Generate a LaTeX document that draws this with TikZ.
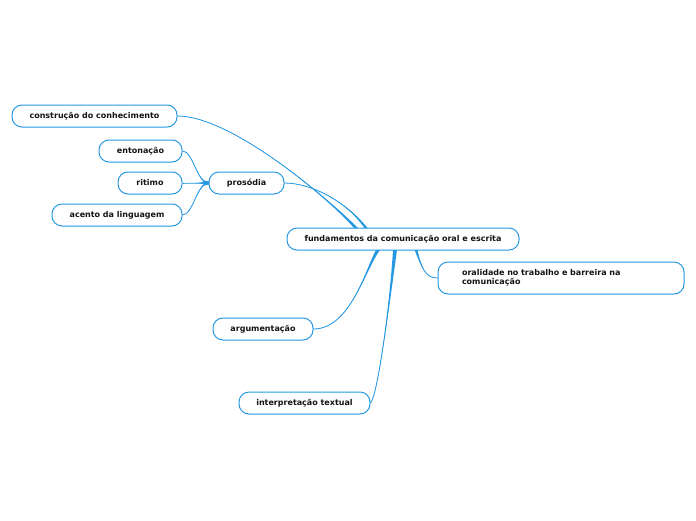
\documentclass[tikz,border=0pt]{standalone}
\usepackage{fontspec}
\setmainfont{DejaVu Sans}
\usetikzlibrary{calc}

\definecolor{linkblue}{RGB}{38,152,226}
\definecolor{inkgray}{RGB}{20,20,20}

% tapered branch: offset x, offset y, root, control 1, control 2, leaf
\newcommand{\branch}[6]{%
  \fill[linkblue] ($(#3)+(#1,#2)$) .. controls (#4) and (#5) .. (#6)
    .. controls (#5) and (#4) .. ($(#3)-(#1,#2)$) -- cycle;
  \draw[linkblue, line width=0.8pt] (#3) .. controls (#4) and (#5) .. (#6);
}

\begin{document}
\begin{tikzpicture}[x=1pt, y=-1pt,
    topic/.style={draw=linkblue, line width=1pt, fill=white, rounded corners=10pt,
      minimum height=22pt, inner sep=0pt, text=inkgray,
      font=\bfseries\fontsize{8}{9}\selectfont}]
        \useasboundingbox (0,0) rectangle (696,520);

        % central topic
        \node[topic, minimum width=232pt] (root) at (403,239) {fundamentos da comunicação oral e escrita};

        % main branches
        \node[topic, minimum width=165pt] (cons) at (94.5,116) {construção do conhecimento};
        \node[topic, minimum width=75pt] (pros) at (246.5,183) {prosódia};
        \node[topic, minimum height=32pt, text width=198pt, inner xsep=24pt, align=left] (oral) at (561,278) {oralidade no trabalho e barreira na\\comunicação};
        \node[topic, minimum width=100pt] (arg) at (263,329) {argumentação};
        \node[topic, minimum width=131pt] (interp) at (304.5,403) {interpretação textual};

        % sub branches of prosodia
        \node[topic, minimum width=83pt] (ento) at (140.5,151) {entonação};
        \node[topic, minimum width=64pt] (rit) at (150,183) {ritimo};
        \node[topic, minimum width=130pt] (acen) at (117,215) {acento da linguagem};

        % attachment points on the central topic
        \coordinate (r1) at (356,228);
        \coordinate (r2) at (366,228);
        \coordinate (r3) at (378,250);
        \coordinate (r4) at (395,250);
        \coordinate (r5) at (416,250);

        % connectors
        \branch{2}{0}{r1}{330,200}{232,116}{cons.east}
        \branch{1.6}{0}{r2}{345,200}{310,183}{pros.east}
        \branch{2}{0}{r3}{365,270}{350,329}{arg.east}
        \branch{2}{0}{r4}{390,300}{378,395}{interp.east}
        \branch{1.4}{0}{r5}{422,268}{425,278}{oral.west}

        \branch{0}{1.5}{pros.west}{197,183}{193,151}{ento.east}
        \branch{0}{1.5}{pros.west}{197,183}{193,183}{rit.east}
        \branch{0}{1.5}{pros.west}{197,183}{193,215}{acen.east}
    \end{tikzpicture}
\end{document}
